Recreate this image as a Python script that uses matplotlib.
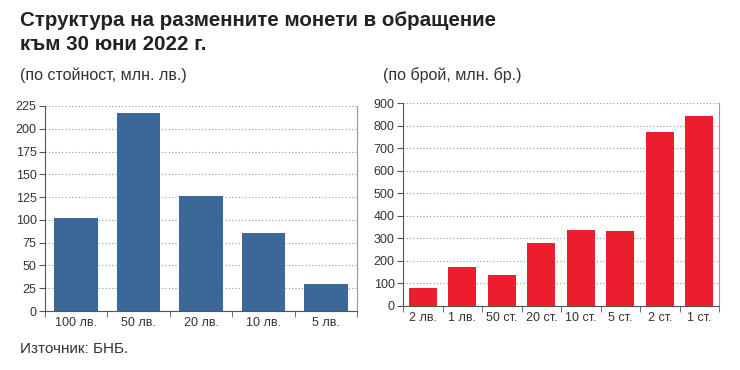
import matplotlib.pyplot as plt
import numpy as np

plt.rcParams['font.family'] = ['Liberation Sans', 'DejaVu Sans']

# data
value_labels = ['100 лв.', '50 лв.', '20 лв.', '10 лв.', '5 лв.']
value_mln = [102.6, 216.9, 126.1, 85.7, 30.0]

count_labels = ['2 лв.', '1 лв.', '50 ст.', '20 ст.', '10 ст.', '5 ст.', '2 ст.', '1 ст.']
count_mln = [80, 173, 138, 278, 336, 332, 771, 842]

W, H = 740, 370
fig = plt.figure(figsize=(W / 100, H / 100), dpi=100)


def px_axes(x0, y_top, x1, y_bottom):
    return fig.add_axes([x0 / W, 1 - y_bottom / H, (x1 - x0) / W, (y_bottom - y_top) / H])


def style(ax, labels, ymax, step):
    n = len(labels)
    ax.set_xlim(-0.5, n - 0.5)
    ax.set_ylim(0, ymax)
    ax.set_yticks(np.arange(0, ymax + 1, step))
    ax.set_xticks(range(n))
    ax.set_xticklabels(labels)
    ax.set_xticks(np.arange(-0.5, n, 1.0), minor=True)
    ax.tick_params(axis='x', which='major', length=0, pad=4, labelsize=9, colors='#333333')
    ax.tick_params(axis='x', which='minor', length=4, direction='out', color='#555555')
    ax.tick_params(axis='y', length=4, direction='out', pad=2, labelsize=9, colors='#333333', color='#555555')
    ax.grid(axis='y', linestyle=(0, (1, 2)), color='#999999', linewidth=0.8)
    ax.set_axisbelow(True)
    ax.spines['top'].set_visible(False)
    for s in ['left', 'bottom']:
        ax.spines[s].set_color('#555555')
    ax.spines['right'].set_color('#999999')


ax1 = px_axes(45, 106, 357, 311)
ax1.bar(range(len(value_mln)), value_mln, width=0.7, color='#3c6799')
style(ax1, value_labels, 225, 25)

ax2 = px_axes(403, 103, 719, 306)
ax2.bar(range(len(count_mln)), count_mln, width=0.7, color='#ec1e2d')
style(ax2, count_labels, 900, 100)

fig.text(20 / W, 1 - 11 / H, 'Структура на разменните монети в обращение\nкъм 30 юни 2022 г.',
         fontsize=14.8, fontweight='bold', va='top', ha='left', color='#222222', linespacing=1.35)
fig.text(20 / W, 1 - 75 / H, '(по стойност, млн. лв.)', fontsize=11.5, va='center', color='#333333')
fig.text(383 / W, 1 - 75 / H, '(по брой, млн. бр.)', fontsize=11.5, va='center', color='#333333')
fig.text(20 / W, 1 - 349 / H, 'Източник: БНБ.', fontsize=11, va='center', color='#333333')

fig.savefig('out.png', dpi=100)
